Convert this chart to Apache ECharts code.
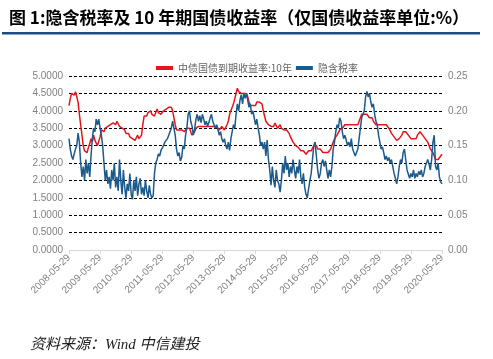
<!DOCTYPE html>
<html>
<head>
<meta charset="utf-8">
<script src="https://cdn.jsdelivr.net/npm/echarts@6/dist/echarts.min.js"></script>
<style>html,body{margin:0;padding:0;background:#fff;}#c{width:493px;height:359px;}</style>
</head>
<body>
<div id="c"></div>
<script>
// Half-monthly sample dates (14th and 29th), 2008-05-29 .. 2020-05-29
const categories = [];
(function(){
  let y = 2008, m = 5, d = 29;
  while (true) {
    let dd = d;
    if (m === 2 && d === 29 && (y % 4 !== 0)) dd = 28;
    categories.push(y + '-' + String(m).padStart(2,'0') + '-' + String(dd).padStart(2,'0'));
    if (y === 2020 && m === 5 && d === 29) break;
    if (d === 29) { d = 14; m += 1; if (m > 12) { m = 1; y += 1; } } else { d = 29; }
  }
})();

const seriesNames = ['中债国债到期收益率:10年', '隐含税率'];

// 10Y government bond yield (%), left axis
const yield10y = [
 4.15,4.35,4.5,4.55,4.45,4.55,4.4,4.25,3.9,3.6,3.3,3.0,2.85,2.9,2.8,2.95,3.05,3.2,3.1,3.3,3.15,3.1,3.0,3.05,
 3.25,3.45,3.5,3.4,3.5,3.45,3.55,3.5,3.6,3.55,3.65,3.7,3.6,3.7,3.65,3.55,3.6,3.5,3.55,3.45,3.35,3.3,3.35,3.25,
 3.3,3.2,3.25,3.15,3.2,3.3,3.2,3.25,3.3,3.6,3.85,3.9,3.85,3.95,3.9,4.0,3.9,3.95,3.85,3.95,4.05,3.95,4.0,3.9,
 3.95,4.0,3.95,4.05,4.0,4.1,4.05,4.1,4.0,3.8,3.6,3.45,3.5,3.45,3.4,3.45,3.5,3.4,3.45,3.5,3.55,3.5,3.4,3.3,
 3.35,3.4,3.5,3.45,3.55,3.5,3.55,3.6,3.55,3.6,3.55,3.6,3.55,3.5,3.55,3.6,3.55,3.5,3.55,3.5,3.45,3.5,3.55,3.5,
 3.45,3.5,3.6,3.7,3.9,4.0,4.1,4.2,4.35,4.5,4.65,4.55,4.6,4.5,4.55,4.5,4.45,4.5,4.4,4.25,4.15,4.1,4.15,4.1,
 4.15,4.25,4.3,4.25,4.3,4.2,4.0,3.85,3.7,3.65,3.6,3.65,3.55,3.6,3.55,3.65,3.6,3.5,3.55,3.6,3.5,3.55,3.45,3.5,
 3.45,3.4,3.35,3.25,3.2,3.1,3.05,3.0,3.05,2.95,2.9,2.85,2.8,2.85,2.8,2.75,2.8,2.85,2.8,2.85,2.9,3.0,2.95,3.0,
 2.9,2.85,2.9,2.85,2.8,2.75,2.8,2.75,2.8,2.85,2.9,3.0,3.1,3.2,3.25,3.3,3.35,3.45,3.4,3.5,3.55,3.6,3.55,3.6,
 3.65,3.6,3.55,3.6,3.65,3.6,3.55,3.6,3.7,3.8,3.9,3.95,3.9,3.85,3.9,3.85,3.8,3.75,3.8,3.7,3.65,3.6,3.55,3.6,
 3.55,3.6,3.65,3.6,3.55,3.6,3.55,3.5,3.45,3.35,3.3,3.25,3.2,3.15,3.1,3.2,3.25,3.3,3.4,3.35,3.4,3.35,3.3,3.25,
 3.2,3.25,3.2,3.15,3.2,3.3,3.35,3.4,3.35,3.3,3.25,3.2,3.15,3.1,3.0,2.9,2.85,2.8,2.7,2.6,2.55,2.6,2.65,2.7,
 2.75
];

// Implied tax rate, right axis
const impliedTax = [
 .160,.145,.135,.130,.138,.145,.150,.168,.155,.125,.105,.120,.100,.130,.110,.125,.105,.135,.160,.175,.170,.188,.180,.188,
 .175,.165,.150,.125,.100,.115,.095,.105,.088,.115,.100,.125,.090,.105,.085,.130,.100,.080,.115,.090,.075,.095,.085,.110,
 .080,.073,.100,.085,.105,.078,.095,.103,.080,.090,.078,.100,.085,.075,.093,.080,.075,.078,.110,.125,.130,.138,.135,.143,
 .145,.150,.155,.153,.160,.165,.170,.175,.185,.175,.165,.145,.135,.140,.128,.133,.150,.145,.165,.175,.195,.200,.185,.178,
 .165,.173,.188,.195,.185,.193,.183,.195,.188,.180,.185,.178,.183,.190,.195,.185,.180,.175,.180,.173,.165,.170,.160,.155,
 .160,.150,.145,.155,.143,.160,.170,.180,.175,.195,.210,.200,.215,.223,.210,.225,.218,.225,.215,.205,.210,.195,.200,.190,
 .180,.188,.175,.165,.150,.155,.145,.155,.135,.158,.130,.115,.093,.120,.100,.090,.115,.100,.095,.083,.100,.125,.110,.135,
 .115,.125,.105,.120,.110,.130,.115,.103,.120,.110,.130,.105,.095,.110,.090,.080,.075,.088,.100,.110,.130,.150,.155,.135,
 .115,.103,.110,.125,.130,.120,.128,.115,.103,.115,.105,.120,.145,.155,.170,.180,.175,.190,.185,.170,.160,.165,.158,.150,
 .155,.148,.160,.145,.140,.135,.133,.145,.160,.175,.190,.195,.200,.220,.228,.220,.225,.213,.205,.210,.195,.185,.180,.165,
 .155,.145,.148,.140,.130,.135,.128,.133,.125,.130,.128,.110,.103,.095,.105,.120,.130,.125,.140,.145,.130,.115,.113,.103,
 .110,.105,.115,.103,.110,.105,.113,.108,.115,.105,.110,.120,.125,.130,.123,.115,.130,.155,.165,.120,.115,.125,.105,.098,
 .095
];

const leftTicks = { min: 0, max: 5, interval: 0.5 };
const rightTicks = { min: 0, max: 0.25, interval: 0.05 };

const chart = echarts.init(document.getElementById('c'), null, { renderer: 'canvas' });
chart.setOption({
  animation: false,
  backgroundColor: '#ffffff',
  title: {
    text: '图 1:隐含税率及 10 年期国债收益率（仅国债收益率单位:%）',
    left: 4, top: 4,
    textStyle: { fontFamily: 'Noto Sans CJK SC', fontSize: 17, fontWeight: 'bold', color: '#000' }
  },
  graphic: [
    { type: 'rect', shape: { x: 2, y: 32, width: 478, height: 2.5 }, style: { fill: '#1d4d80' } },
    { type: 'text', left: 30, top: 338,
      style: { text: '资料来源：Wind 中信建投', fontFamily: "'Liberation Serif','Noto Sans CJK SC'",
               fontSize: 15, fontStyle: 'italic', fill: '#222' } }
  ],
  legend: {
    left: 151, top: 58, itemGap: 4, itemWidth: 17, itemHeight: 4,
    icon: 'rect',
    textStyle: { fontFamily: 'Noto Sans CJK SC', fontSize: 10, color: '#666' },
    data: seriesNames
  },
  grid: { left: 69, right: 51, top: 76, bottom: 109, containLabel: false },
  xAxis: {
    type: 'category', data: categories, boundaryGap: false,
    axisLine: { lineStyle: { color: '#d9d9d9' } },
    axisTick: { interval: 23, length: 4, lineStyle: { color: '#d9d9d9' } },
    axisLabel: { interval: 23, rotate: 45, fontSize: 10, color: '#808080', fontFamily: 'Liberation Sans', margin: 6 },
    splitLine: { show: false }
  },
  yAxis: [
    { type: 'value', min: leftTicks.min, max: leftTicks.max, interval: leftTicks.interval,
      axisLine: { show: false }, axisTick: { show: false },
      axisLabel: { formatter: v => v.toFixed(4), fontSize: 10, color: '#808080', fontFamily: 'Liberation Sans', margin: 6 },
      splitLine: { show: true, lineStyle: { color: '#000', type: [3, 2], width: 1 } } },
    { type: 'value', min: rightTicks.min, max: rightTicks.max, interval: rightTicks.interval,
      axisLine: { show: false }, axisTick: { show: false },
      axisLabel: { formatter: v => v.toFixed(2), fontSize: 10, color: '#808080', fontFamily: 'Liberation Sans', margin: 6 },
      splitLine: { show: false } }
  ],
  series: [
    { name: seriesNames[0], type: 'line', data: yield10y, yAxisIndex: 0, showSymbol: false, symbol: 'none',
      lineStyle: { color: '#e3161e', width: 1.5 }, itemStyle: { color: '#e3161e' } },
    { name: seriesNames[1], type: 'line', data: impliedTax, yAxisIndex: 1, showSymbol: false, symbol: 'none',
      lineStyle: { color: '#1c5a8c', width: 1.5 }, itemStyle: { color: '#1c5a8c' } }
  ]
});
</script>
</body>
</html>
